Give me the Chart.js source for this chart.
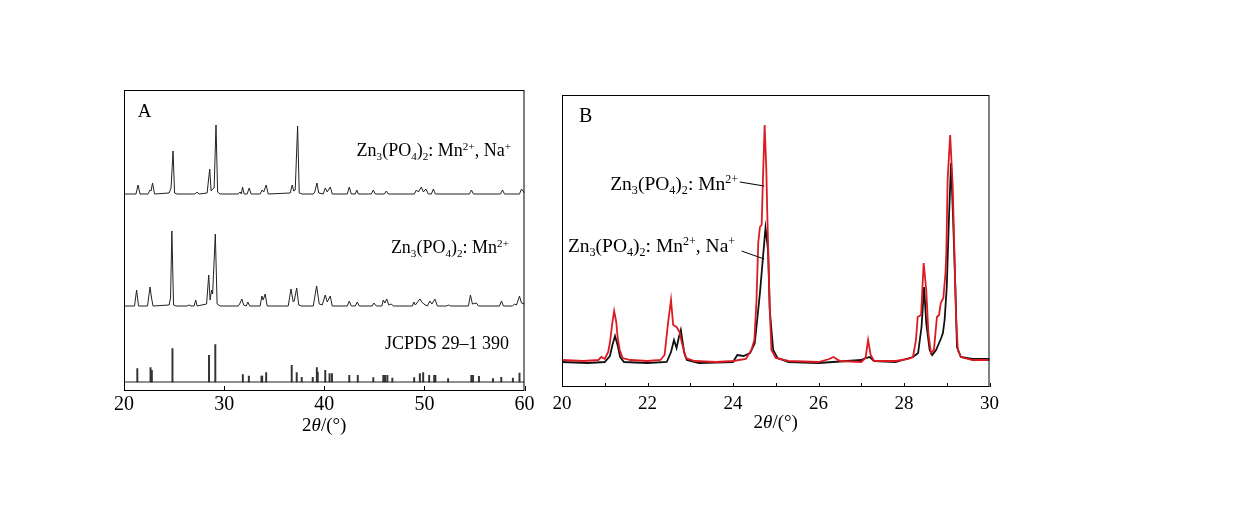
<!DOCTYPE html>
<html>
<head>
<meta charset="utf-8">
<script src="https://cdn.jsdelivr.net/npm/chart.js@4.4.1/dist/chart.umd.min.js"></script>
<style>
    body { margin: 0; background: #fff; width: 1233px; height: 525px; overflow: hidden; position: relative; }
    .panel { position: absolute; }
</style>
</head>
<body>
<div class="panel" style="left:100px;top:80px;width:460px;height:380px"><canvas id="chartA" width="460" height="380"></canvas></div>
<div class="panel" style="left:540px;top:85px;width:480px;height:370px"><canvas id="chartB" width="480" height="370"></canvas></div>
<script>
// Panel A: 2theta vs intensity above each trace's own baseline (a.u.)
const aMnNa = [
    [20, 0], [21.2, 0], [21.4, 9], [21.6, 0], [22.4, 0], [22.6, 4], [22.7, 3], [22.85, 11], [23.05, 0],
    [24.5, 1], [24.7, 6], [24.9, 43], [25.05, 1], [25.3, 0], [27.1, 0], [27.3, 2], [27.5, 0],
    [28.3, 1], [28.56, 25], [28.7, 3], [28.85, 5], [29.0, 6], [29.19, 69], [29.35, 2], [29.6, 0],
    [31.4, 0], [31.6, 2], [31.72, 0], [31.84, 7], [32.0, 0], [32.3, 0], [32.5, 6], [32.7, 0],
    [33.6, 0], [33.8, 4], [33.95, 2], [34.2, 9], [34.4, 0], [36.6, 1], [36.8, 9], [36.95, 3],
    [37.1, 4], [37.34, 68], [37.5, 1], [37.8, 0], [38.9, 0], [39.05, 2], [39.27, 11], [39.45, 1],
    [39.9, 0], [40.1, 6], [40.3, 2], [40.6, 7], [40.8, 0], [42.3, 0], [42.5, 7], [42.7, 0],
    [43.1, 0], [43.25, 4], [43.4, 0], [44.7, 0], [44.9, 4], [45.1, 0], [46.0, 0], [46.2, 3], [46.4, 0],
    [49.0, 0], [49.2, 4], [49.4, 2], [49.7, 7], [49.9, 2], [50.15, 5], [50.4, 0], [50.7, 0], [50.9, 5],
    [51.1, 0], [54.5, 0], [54.7, 4], [54.9, 0], [57.6, 0], [57.8, 4], [58.0, 0], [59.5, 0], [59.7, 5], [60, 1]
];
const aMn = [
    [20, 0], [21.05, 0], [21.26, 16], [21.45, 0], [22.35, 0], [22.6, 19], [22.75, 8], [22.9, 0],
    [24.5, 1], [24.65, 8], [24.78, 75], [24.95, 1], [25.2, 0], [26.3, 0], [26.5, 1], [26.7, 0],
    [27.0, 0], [27.16, 6], [27.3, 0], [28.25, 2], [28.46, 31], [28.6, 6], [28.75, 16], [28.85, 12],
    [29.12, 72], [29.3, 2], [29.6, 0], [31.4, 0], [31.55, 2], [31.77, 7], [31.95, 1], [32.2, 0],
    [32.37, 4], [32.55, 0], [33.6, 0], [33.77, 10], [33.9, 6], [34.1, 12], [34.3, 0], [36.4, 0],
    [36.68, 17], [36.9, 4], [37.0, 5], [37.25, 18], [37.45, 1], [37.7, 0], [38.9, 0], [39.24, 20],
    [39.5, 2], [39.8, 1], [40.1, 11], [40.3, 4], [40.6, 10], [40.8, 0], [42.3, 0], [42.5, 5], [42.7, 0],
    [43.1, 0], [43.3, 4], [43.5, 0], [44.8, 0], [44.95, 3], [45.2, 0], [45.75, 0], [45.9, 6], [46.05, 3],
    [46.24, 7], [46.45, 1], [46.7, 2], [46.9, 0], [48.8, 0], [48.95, 4], [49.1, 1], [49.55, 7], [49.75, 4],
    [49.95, 2], [50.3, 0], [50.55, 5], [50.75, 2], [51.05, 7], [51.3, 0], [52.2, 0], [52.4, 1], [52.6, 0],
    [54.4, 0], [54.6, 11], [54.8, 2], [55.2, 3], [55.4, 0], [57.5, 0], [57.7, 5], [57.9, 0], [58.8, 0],
    [59.0, 2], [59.2, 1], [59.5, 10], [59.7, 3], [60, 2]
];
const aJcpds = [
    [21.33, 13.3], [22.65, 14.3], [22.78, 11.7], [24.84, 33.3], [28.49, 26.7], [29.12, 37.3],
    [31.87, 7.3], [32.47, 6], [33.73, 6], [33.8, 6], [34.2, 9.3], [36.75, 16.7], [37.25, 9.3],
    [37.75, 4.7], [38.85, 4.7], [39.26, 14.3], [39.35, 10], [40.1, 11.7], [40.53, 8.3], [40.77, 8.3],
    [42.5, 6.7], [43.35, 6.7], [44.9, 4.3], [45.9, 6.7], [46.07, 6.7], [46.3, 6.7], [46.8, 4],
    [48.98, 4.3], [49.55, 8.3], [49.88, 9.3], [50.48, 6.7], [50.98, 6.7], [51.1, 6.7], [52.37, 3.3],
    [54.69, 6.7], [54.86, 6.7], [55.45, 5.7], [56.85, 3.3], [57.68, 4.7], [58.84, 4], [59.5, 9]
];
const aTicks = [20, 30, 40, 50, 60];

// Panel B: zoom 20-30 deg
const bMn = [
    [20.0, 27], [20.5, 26], [20.85, 27], [20.92, 30], [21.0, 28], [21.08, 35], [21.12, 44], [21.18, 65],
    [21.22, 76], [21.27, 65], [21.3, 50], [21.35, 37], [21.42, 29], [21.6, 27], [22.0, 26], [22.3, 27],
    [22.4, 32], [22.48, 64], [22.55, 87], [22.6, 62], [22.68, 60], [22.75, 55], [22.8, 45], [22.9, 29],
    [23.1, 26], [23.6, 25], [24.0, 26], [24.3, 28], [24.43, 37], [24.5, 47], [24.55, 87], [24.59, 144],
    [24.63, 160], [24.67, 162], [24.7, 207], [24.74, 262], [24.78, 217], [24.8, 177], [24.86, 77],
    [24.9, 37], [25.0, 29], [25.3, 26], [26.0, 25], [26.25, 28], [26.35, 30], [26.5, 26], [27.0, 25],
    [27.1, 29], [27.16, 47], [27.22, 32], [27.3, 26], [27.8, 26], [28.1, 28], [28.21, 30], [28.28, 47],
    [28.32, 70], [28.4, 72], [28.46, 124], [28.52, 97], [28.57, 54], [28.63, 34], [28.7, 37], [28.77, 70],
    [28.82, 72], [28.86, 84], [28.92, 89], [28.97, 114], [28.99, 134], [29.02, 207], [29.08, 252],
    [29.14, 200], [29.18, 134], [29.22, 67], [29.26, 37], [29.33, 30], [29.6, 27], [30.0, 27]
];
const bMnNa = [
    [20.0, 25], [20.6, 24], [21.0, 25], [21.12, 31], [21.18, 42], [21.24, 51], [21.3, 42], [21.36, 30],
    [21.45, 25], [22.0, 24], [22.45, 25], [22.55, 35], [22.62, 47], [22.68, 39], [22.73, 49], [22.78, 57],
    [22.86, 34], [22.92, 27], [23.2, 24], [24.0, 25], [24.1, 32], [24.25, 31], [24.4, 34], [24.51, 44],
    [24.63, 94], [24.71, 134], [24.76, 159], [24.82, 137], [24.86, 77], [24.94, 37], [25.04, 29],
    [25.3, 25], [26.0, 24], [27.0, 27], [27.1, 29], [27.2, 30], [27.3, 26], [27.8, 25], [28.21, 30],
    [28.33, 34], [28.41, 60], [28.47, 100], [28.52, 64], [28.6, 37], [28.66, 32], [28.75, 37], [28.82, 44],
    [28.87, 49], [28.91, 54], [28.95, 67], [29.0, 100], [29.05, 167], [29.1, 224], [29.15, 167],
    [29.2, 100], [29.24, 40], [29.33, 30], [29.6, 28], [30.0, 28]
];
const bTicks = [20, 21, 22, 23, 24, 25, 26, 27, 28, 29, 30];

// Rich text pieces: [text, mode] where mode is '', 'sub', 'sup' or 'it'
const labelMn = [['Zn', ''], ['3', 'sub'], ['(PO', ''], ['4', 'sub'], [')', ''], ['2', 'sub'], [': Mn', ''], ['2+', 'sup']];
const labelMnNa = labelMn.concat([[', Na', ''], ['+', 'sup']]);
const labelJcpds = [['JCPDS 29\u20131 390', '']];
const axisTitle = [['2', ''], ['\u03b8', 'it'], ['/(\u00b0)', '']];

const SERIF = "'Liberation Serif', 'Times New Roman', serif";

// Stack offsets for panel A traces
const OFFSET_MNNA = 197;
const OFFSET_MN = 85;
const OFFSET_JCPDS = 9;

function drawRich(ctx, segs, x, y, size, align) {
    const fontFor = m => (m === 'it' ? 'italic ' : '') + (m === 'sub' || m === 'sup' ? size * 0.62 : size) + 'px ' + SERIF;
    let w = 0;
    segs.forEach(([t, m]) => { ctx.font = fontFor(m); w += ctx.measureText(t).width; });
    let cx = align === 'right' ? x - w : align === 'center' ? x - w / 2 : x;
    ctx.textAlign = 'left';
    ctx.textBaseline = 'alphabetic';
    ctx.fillStyle = '#000';
    segs.forEach(([t, m]) => {
        ctx.font = fontFor(m);
        const dy = m === 'sub' ? size * 0.2 : m === 'sup' ? -size * 0.36 : 0;
        ctx.fillText(t, cx, y + dy);
        cx += ctx.measureText(t).width;
    });
}

// Frame, inward ticks, labels and axis title
const decorPlugin = {
    id: 'decor',
    afterDraw(chart, args, opts) {
        const { ctx, chartArea: { left, top, right, bottom }, scales: { x, y } } = chart;
        ctx.save();
        ctx.strokeStyle = '#000';
        ctx.lineWidth = 1;
        ctx.strokeRect(left + 0.5, top + 0.5, right - left - 1, bottom - top - 1);
        opts.ticks.forEach(v => {
            const px = Math.round(x.getPixelForValue(v)) + 0.5;
            ctx.beginPath();
            ctx.moveTo(px, bottom);
            ctx.lineTo(px, bottom - opts.tickLength);
            ctx.stroke();
        });
        (opts.leaders || []).forEach(l => {
            ctx.beginPath();
            ctx.moveTo(x.getPixelForValue(l[0]), y.getPixelForValue(l[1]));
            ctx.lineTo(x.getPixelForValue(l[2]), y.getPixelForValue(l[3]));
            ctx.stroke();
        });
        opts.labels.forEach(l => {
            drawRich(ctx, l.segs, x.getPixelForValue(l.x), y.getPixelForValue(l.y), l.size, l.align);
        });
        drawRich(ctx, axisTitle, (left + right) / 2, bottom + opts.titleOffset, opts.titleSize, 'center');
        ctx.restore();
    }
};

const toPoints = (arr, offset) => arr.map(p => ({ x: p[0], y: p[1] + offset }));

function xScale(min, max, step, size, pad, height) {
    return {
        type: 'linear',
        min: min,
        max: max,
        offset: false,
        grid: { display: false },
        border: { display: false },
        ticks: { stepSize: step, color: '#000', padding: pad, font: { family: SERIF, size: size }, maxRotation: 0 },
        afterFit: scale => { scale.height = height; }
    };
}

// Panel A
new Chart(document.getElementById('chartA'), {
    type: 'line',
    data: {
        datasets: [
            { data: toPoints(aMnNa, OFFSET_MNNA), borderColor: '#222', borderWidth: 1, pointRadius: 0 },
            { data: toPoints(aMn, OFFSET_MN), borderColor: '#222', borderWidth: 1, pointRadius: 0 },
            { data: toPoints([[20, 0], [60, 0]], OFFSET_JCPDS), borderColor: '#222', borderWidth: 1, pointRadius: 0 },
            {
                type: 'bar',
                data: aJcpds.map(p => ({ x: p[0], y: [OFFSET_JCPDS, OFFSET_JCPDS + p[1]] })),
                backgroundColor: '#333',
                borderWidth: 0,
                barThickness: 1.3
            }
        ]
    },
    options: {
        responsive: false,
        animation: false,
        layout: { padding: { left: 24, right: 35.5, top: 10, bottom: 0 } },
        plugins: {
            legend: { display: false },
            tooltip: { enabled: false },
            decor: {
                ticks: aTicks,
                tickLength: 5,
                titleOffset: 40,
                titleSize: 19,
                labels: [
                    { segs: [['A', '']], x: 21.37, y: 274, size: 19, align: 'left' },
                    { segs: labelMnNa, x: 58.65, y: 235, size: 18, align: 'right' },
                    { segs: labelMn, x: 58.45, y: 138, size: 18, align: 'right' },
                    { segs: labelJcpds, x: 58.45, y: 42, size: 18, align: 'right' }
                ]
            }
        },
        scales: {
            x: xScale(20, 60, 10, 20, -6, 69),
            y: { display: false, min: 0, max: 301 }
        }
    },
    plugins: [decorPlugin]
});

// Panel B
new Chart(document.getElementById('chartB'), {
    type: 'line',
    data: {
        datasets: [
            { data: toPoints(bMn, 0), borderColor: '#dc1a22', borderWidth: 1.8, pointRadius: 0 },
            { data: toPoints(bMnNa, 0), borderColor: '#111', borderWidth: 1.8, pointRadius: 0 }
        ]
    },
    options: {
        responsive: false,
        animation: false,
        layout: { padding: { left: 22, right: 30.5, top: 10, bottom: 0 } },
        plugins: {
            legend: { display: false },
            tooltip: { enabled: false },
            decor: {
                ticks: bTicks,
                tickLength: 4,
                titleOffset: 41,
                titleSize: 19,
                leaders: [[24.16, 205, 24.73, 201], [24.2, 136, 24.73, 128]],
                labels: [
                    { segs: [['B', '']], x: 20.4, y: 265, size: 20, align: 'left' },
                    { segs: labelMn, x: 24.12, y: 197, size: 19.5, align: 'right' },
                    { segs: labelMnNa, x: 24.05, y: 135, size: 19.5, align: 'right' }
                ]
            }
        },
        scales: {
            x: xScale(20, 30, 2, 19, -2, 68),
            y: { display: false, min: 0, max: 292 }
        }
    },
    plugins: [decorPlugin]
});
</script>
</body>
</html>
